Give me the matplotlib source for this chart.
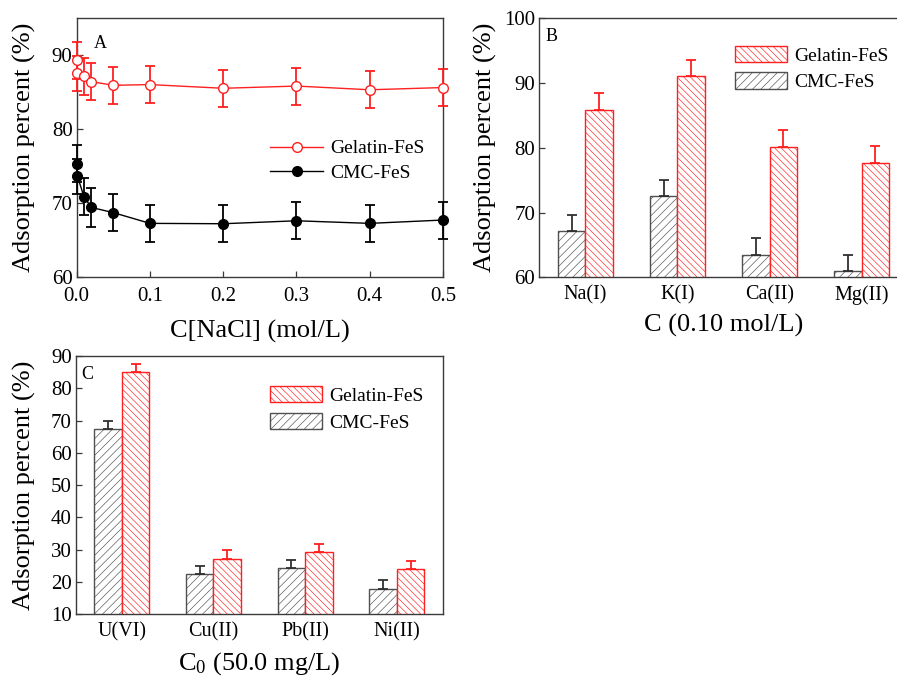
import matplotlib
matplotlib.use('Agg')
import matplotlib.pyplot as plt
from matplotlib.lines import Line2D
import numpy as np

plt.rcParams['font.family'] = ['Liberation Serif', 'DejaVu Serif']
plt.rcParams['mathtext.fontset'] = 'custom'
plt.rcParams['mathtext.rm'] = 'Liberation Serif'
plt.rcParams['mathtext.it'] = 'Liberation Serif:italic'
plt.rcParams['hatch.linewidth'] = 0.45

# ---- panel A data (NaCl concentration)
nacl = [0, 0.001, 0.01, 0.02, 0.05, 0.1, 0.2, 0.3, 0.4, 0.5]
gel_a = [89.3, 87.5, 87.1, 86.4, 85.9, 86.0, 85.5, 85.8, 85.3, 85.6]
gel_a_err = [2.5, 2.4, 2.5, 2.5, 2.5, 2.5, 2.5, 2.5, 2.5, 2.5]
cmc_a = [75.3, 73.6, 70.85, 69.4, 68.7, 67.25, 67.2, 67.6, 67.25, 67.7]
cmc_a_err = [2.5, 2.4, 2.5, 2.6, 2.5, 2.45, 2.5, 2.5, 2.5, 2.5]

# ---- panel B data (coexisting cations)
ions_b = ['Na(I)', 'K(I)', 'Ca(II)', 'Mg(II)']
cmc_b = [67.2, 72.6, 63.5, 60.9]
cmc_b_err = [2.4, 2.4, 2.5, 2.5]
gel_b = [85.8, 91.1, 80.2, 77.7]
gel_b_err = [2.6, 2.5, 2.5, 2.6]

# ---- panel C data (heavy metals)
ions_c = ['U(VI)', 'Cu(II)', 'Pb(II)', 'Ni(II)']
cmc_c = [67.3, 22.4, 24.2, 17.9]
cmc_c_err = [2.5, 2.6, 2.5, 2.5]
gel_c = [84.9, 27.1, 29.1, 24.0]
gel_c_err = [2.6, 2.7, 2.6, 2.5]

RED = '#ff2020'
GRAY = '#505050'
spine_c = '#3a3a3a'

fig = plt.figure(figsize=(8.97, 6.78), dpi=100)

def style(ax):
    for s in ax.spines.values():
        s.set_color(spine_c)
        s.set_linewidth(1.0)
    ax.tick_params(direction='in', length=4, width=0.9, labelsize=15,
                   colors='black', pad=3)
    ax.tick_params(axis='both', color=spine_c)

# ---------------- A
ax = fig.add_axes([0.0855, 0.5914, 0.4084, 0.3821])
style(ax)
ax.errorbar(nacl, gel_a, yerr=gel_a_err, fmt='none', ecolor=RED, capsize=3.5,
            elinewidth=1.3, capthick=1.3, clip_on=False, zorder=3)
ax.errorbar(nacl, cmc_a, yerr=cmc_a_err, fmt='none', ecolor='black', capsize=3.5,
            elinewidth=1.3, capthick=1.3, clip_on=False, zorder=3)
ax.plot(nacl, gel_a, color=RED, lw=1.0, marker='o', ms=7, mfc='white',
        mec=RED, mew=1.0, clip_on=False, zorder=4)
ax.plot(nacl, cmc_a, color='black', lw=1.0, marker='o', ms=7, mfc='black',
        mec='black', clip_on=False, zorder=4)
ax.set_xlim(0, 0.5)
ax.set_ylim(60, 95)
ax.set_xticks([0, 0.1, 0.2, 0.3, 0.4, 0.5])
ax.set_xticklabels(['0.0', '0.1', '0.2', '0.3', '0.4', '0.5'])
ax.set_yticks([60, 70, 80, 90])
ax.tick_params(axis='x', pad=7)
ax.set_xlabel('C[NaCl] (mol/L)', fontsize=19, labelpad=10)
ax.set_ylabel('Adsorption percent (%)', fontsize=19, labelpad=11)
ax.text(0.064, 0.90, 'A', transform=ax.transAxes, fontsize=13, ha='center', va='center')
handles = [Line2D([], [], color=RED, lw=1.0, marker='o', ms=7, mfc='white', mec=RED),
           Line2D([], [], color='black', lw=1.0, marker='o', ms=7, mfc='black', mec='black')]
ax.legend(handles, ['Gelatin-FeS', 'CMC-FeS'], loc='upper left',
          bbox_to_anchor=(0.529, 0.53), frameon=False, fontsize=14,
          handlelength=2.7, handletextpad=0.35, labelspacing=0.35,
          borderpad=0, borderaxespad=0)

def bars(ax, names, cmc, cmc_err, gel, gel_err, ylim, yticks, xlabel, letter, ypad):
    style(ax)
    x = np.arange(1, len(names) + 1)
    w = 0.3
    ax.bar(x - w / 2, cmc, w, bottom=0, color='white', edgecolor=GRAY,
           hatch='////', linewidth=1.0, label='CMC-FeS', zorder=2)
    ax.bar(x + w / 2, gel, w, bottom=0, color='white', edgecolor=RED,
           hatch='\\\\\\\\\\', linewidth=1.0, label='Gelatin-FeS', zorder=2)
    ax.errorbar(x - w / 2, cmc, yerr=[np.zeros(len(cmc)), cmc_err], fmt='none',
                ecolor='#303030', elinewidth=1.3, capsize=3.5, capthick=1.3, zorder=3)
    ax.errorbar(x + w / 2, gel, yerr=[np.zeros(len(gel)), gel_err], fmt='none',
                ecolor=RED, elinewidth=1.3, capsize=3.5, capthick=1.3, zorder=3)
    ax.set_xlim(0.5, len(names) + 0.5)
    ax.set_ylim(*ylim)
    ax.set_yticks(yticks)
    ax.set_xticks(x)
    ax.set_xticklabels(names, fontsize=14.5)
    ax.tick_params(axis='x', length=0, pad=6)
    ax.set_xlabel(xlabel, fontsize=19, labelpad=6)
    ax.set_ylabel('Adsorption percent (%)', fontsize=19, labelpad=ypad)
    ax.text(0.032, 0.93, letter, transform=ax.transAxes, fontsize=13,
            ha='center', va='center')
    h, l = ax.get_legend_handles_labels()
    return ax, h[::-1], l[::-1]

# ---------------- B (right side runs past the figure edge, as in the original)
axb = fig.add_axes([0.6012, 0.591, 0.4107, 0.382])
axb, h, l = bars(axb, ions_b, cmc_b, cmc_b_err, gel_b, gel_b_err, (60, 100),
                 [60, 70, 80, 90, 100], 'C (0.10 mol/L)', 'B', 5)
axb.legend(h, l, loc='upper left', bbox_to_anchor=(0.53, 0.895),
           frameon=False, fontsize=14, handlelength=2.7, handleheight=0.95,
           handletextpad=0.35, labelspacing=0.4, borderpad=0, borderaxespad=0)

# ---------------- C
axc = fig.add_axes([0.0847, 0.0944, 0.4088, 0.3805])
axc, h, l = bars(axc, ions_c, cmc_c, cmc_c_err, gel_c, gel_c_err, (10, 90),
                 list(range(10, 91, 10)), 'C$_0$ (50.0 mg/L)', 'C', 11)
axc.legend(h, l, loc='upper left', bbox_to_anchor=(0.529, 0.885),
           frameon=False, fontsize=14, handlelength=2.7, handleheight=0.95,
           handletextpad=0.35, labelspacing=0.4, borderpad=0, borderaxespad=0)

fig.savefig('out.png', dpi=100)
